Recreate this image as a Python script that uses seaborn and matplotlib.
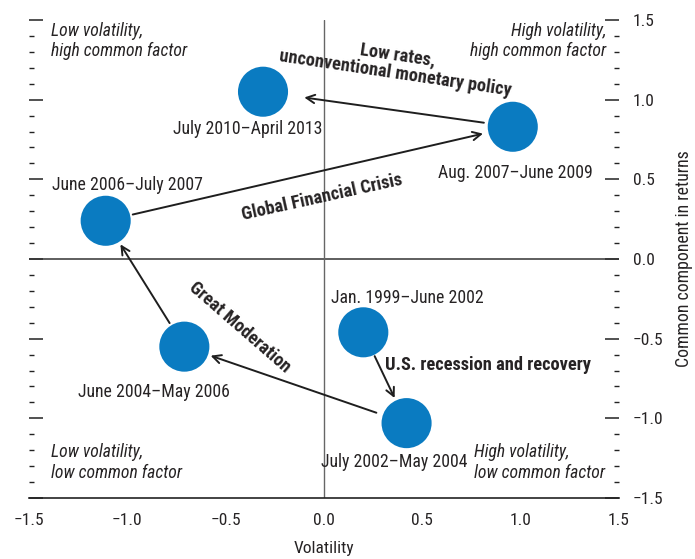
import numpy as np
import pandas as pd
import seaborn as sns
import matplotlib.pyplot as plt
from matplotlib import font_manager
from matplotlib.ticker import MultipleLocator

periods = ["Jan. 1999–June 2002", "July 2002–May 2004", "June 2004–May 2006",
           "June 2006–July 2007", "Aug. 2007–June 2009", "July 2010–April 2013"]
volatility = [0.20, 0.42, -0.71, -1.11, 0.96, -0.31]
common = [-0.46, -1.03, -0.55, 0.24, 0.83, 1.05]

df = pd.DataFrame({"period": periods, "Volatility": volatility, "Common": common})

sns.set_style("white")

# pick a narrow face if one is around
faces = {(f.name, f.stretch) for f in font_manager.fontManager.ttflist}
names = {f[0] for f in faces}
stretch = "normal"
if "Roboto Condensed" in names:
    family = "Roboto Condensed"
elif "Liberation Sans Narrow" in names:
    family = "Liberation Sans Narrow"
elif ("DejaVu Sans", "condensed") in faces or ("DejaVu Sans", "semi-condensed") in faces:
    family, stretch = "DejaVu Sans", "condensed"
else:
    family = "Roboto"
plt.rcParams["font.family"] = [family, "DejaVu Sans"]
plt.rcParams["font.stretch"] = stretch
plt.rcParams["axes.unicode_minus"] = True

ink = "#262324"
blue = "#0a7bc1"

fig = plt.figure(figsize=(6.95, 5.59), dpi=100)
ax = fig.add_axes([0.0417, 0.1091, 0.8489, 0.8551])

ax.axhline(0, color="#333333", lw=1.1, zorder=1)
ax.axvline(0, color="#666666", lw=1.0, zorder=1)

sns.scatterplot(data=df, x="Volatility", y="Common", s=1300, color=blue,
                edgecolor="none", ax=ax, zorder=3, legend=False)

# period labels (offsets in points from each bubble)
offsets = {
    "Jan. 1999–June 2002": (32, 25),
    "July 2002–May 2004": (-9, -28),
    "June 2004–May 2006": (-22, -33),
    "June 2006–July 2007": (16, 26),
    "Aug. 2007–June 2009": (2, -33),
    "July 2010–April 2013": (-11, -27),
}
for p, x, y in zip(periods, volatility, common):
    ax.annotate(p, (x, y), xytext=offsets[p], textcoords="offset points",
                ha="center", va="center", fontsize=12.8, color=ink)

# arrows between consecutive periods
pos = dict(zip(periods, zip(volatility, common)))
path = [(0, 1, 19, 20), (1, 2, 23, 20), (2, 3, 20, 20), (3, 4, 20, 22), (4, 5, 21, 30)]
for a, b, sa, sb in path:
    ax.annotate("", xy=pos[periods[b]], xytext=pos[periods[a]],
                arrowprops=dict(arrowstyle="->,head_length=0.6,head_width=0.3",
                                color="#1e1e1e", lw=1.4, shrinkA=sa, shrinkB=sb),
                zorder=2)

bold = dict(fontsize=13.2, fontweight="bold", color=ink, ha="center", va="center",
            rotation_mode="anchor")
ax.text(0.37, 1.222, "Low rates,\nunconventional monetary policy", rotation=-8.5,
        linespacing=1.0, **bold)
ax.text(-0.01, 0.39, "Global Financial Crisis", rotation=12.5, **bold)
ax.text(-0.43, -0.43, "Great Moderation", rotation=-41, **bold)
ax.text(0.31, -0.665, "U.S. recession and recovery", fontsize=13.2, fontweight="bold",
        color=ink, ha="left", va="center")

quad = dict(fontsize=12.7, style="italic", color=ink, linespacing=1.2)
ax.text(-1.39, 1.49, "Low volatility,\nhigh common factor", ha="left", va="top", **quad)
ax.text(1.435, 1.49, "High volatility,\nhigh common factor", ha="right", va="top", **quad)
ax.text(-1.39, -1.40, "Low volatility,\nlow common factor", ha="left", va="bottom", **quad)
ax.text(0.765, -1.40, "High volatility,\nlow common factor", ha="left", va="bottom", **quad)

ax.set_xlim(-1.5, 1.5)
ax.set_ylim(-1.5, 1.5)
ax.xaxis.set_major_locator(MultipleLocator(0.5))
ax.xaxis.set_minor_locator(MultipleLocator(0.1))
ax.yaxis.set_major_locator(MultipleLocator(0.5))
ax.yaxis.set_minor_locator(MultipleLocator(0.1))

for s in ["top", "left", "right"]:
    ax.spines[s].set_visible(False)
ax.spines["bottom"].set_color("#222222")
ax.spines["bottom"].set_linewidth(1.2)

ax.tick_params(axis="x", which="major", direction="in", length=9, width=1.1,
               color="#222222", labelsize=12.5, labelcolor=ink, pad=11)
ax.tick_params(axis="x", which="minor", direction="in", length=5, width=1.0, color="#222222")
ax.tick_params(axis="y", which="both", left=True, right=True, labelleft=False,
               labelright=True, direction="in", color="#222222")
ax.tick_params(axis="y", which="major", length=10, width=1.1, labelsize=12.5,
               labelcolor=ink, pad=10)
ax.tick_params(axis="y", which="minor", length=3.5, width=1.0)

ax.set_xlabel("Volatility", fontsize=12.5, color=ink, labelpad=9)
ax.yaxis.set_label_position("right")
ax.set_ylabel("Common component in returns", fontsize=12.8, color=ink, labelpad=8)

fig.savefig("out.png", dpi=100)
